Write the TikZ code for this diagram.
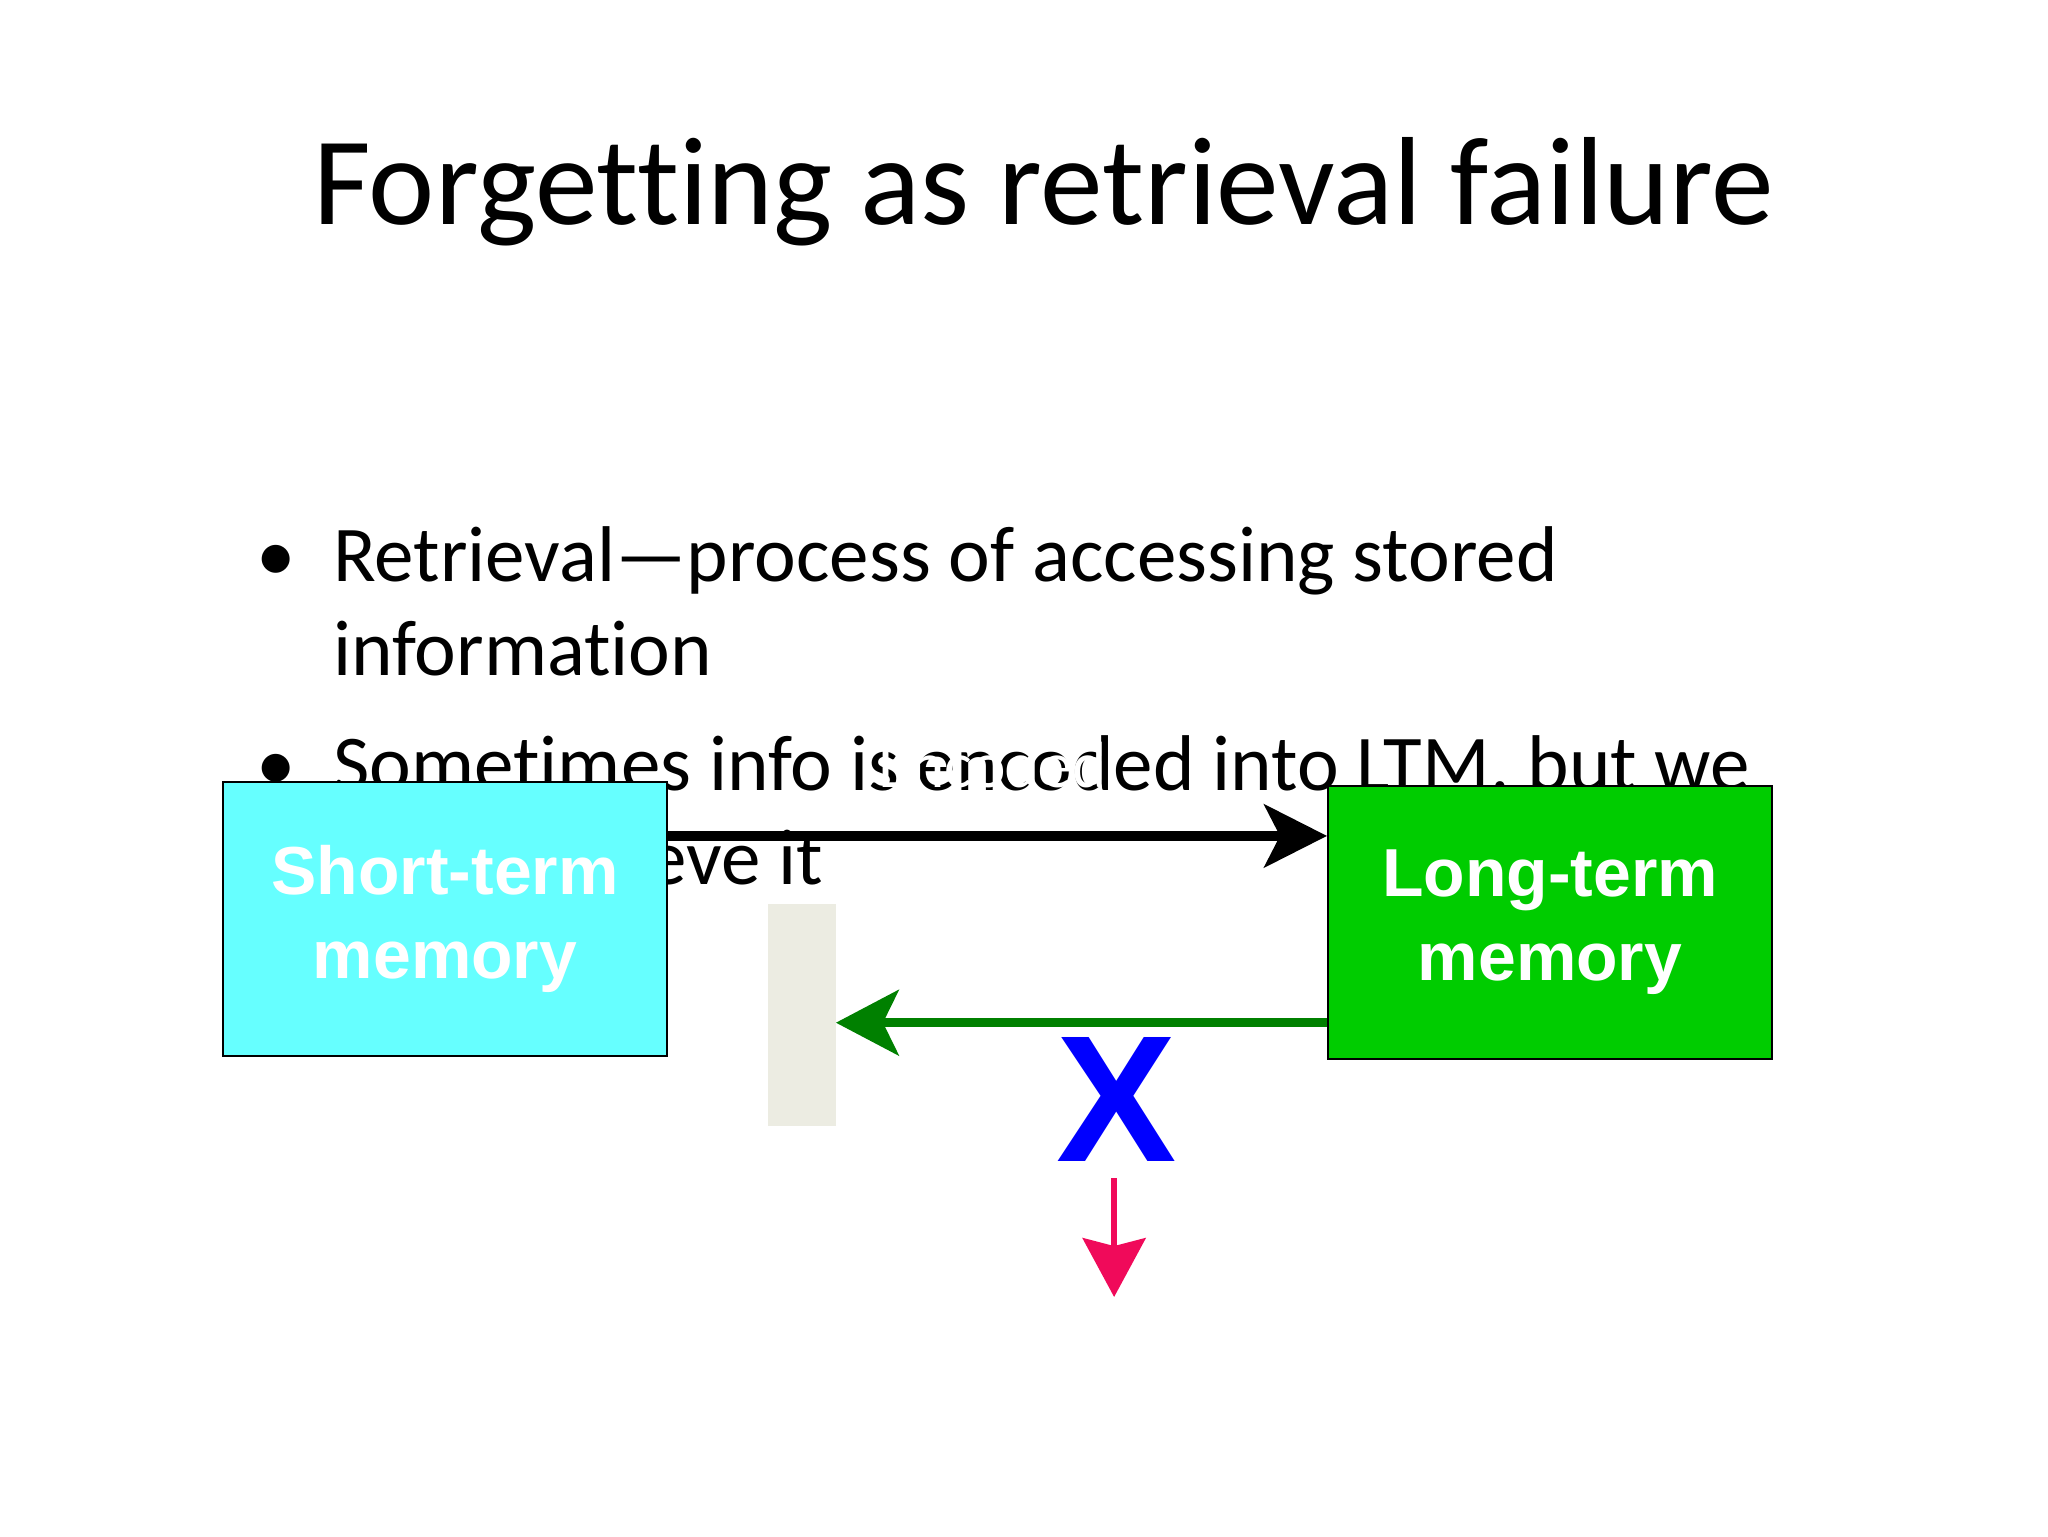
\documentclass[tikz,border=0pt]{standalone}
\usepackage{fontspec}
\setmainfont[Ligatures={NoCommon}]{Carlito}
\newfontfamily\arial{Liberation Sans}
\usetikzlibrary{arrows.meta}
\definecolor{pinkred}{RGB}{240,10,90}
\definecolor{beige}{RGB}{236,236,226}
\definecolor{stmcyan}{RGB}{102,255,255}
\definecolor{ltmgreen}{RGB}{0,204,0}
\begin{document}
\begin{tikzpicture}[x=1pt,y=-1pt,
  txt/.style={anchor=base west,inner sep=0pt,font=\fontsize{60.5}{72}\selectfont},
  mem/.style={draw=black,line width=1.5pt,anchor=north west,inner sep=0pt,text=white,align=center,font=\arial\bfseries\fontsize{52}{64}\selectfont}]
\useasboundingbox (0,0) rectangle (1568,1176);
\node[anchor=base,inner sep=0pt,font=\fontsize{96}{110}\selectfont] (title) at (799,172) {Forgetting as retrieval failure};
\node[txt] (b1) at (196,445) {•};
\node[txt] (l1) at (255,445) {Retrieval—process of accessing stored};
\node[txt] (l2) at (255,517) {information};
\node[txt] (b2) at (196,605) {•};
\node[txt] (l3) at (255,605) {Sometimes info is encoded into LTM, but we};
\node[txt] (l4) at (255,677) {can't retrieve it};
\node[mem,fill=stmcyan,minimum width=340pt,minimum height=210pt] (stm) at (170,598) {\rule{0pt}{12pt}Short-term\\memory};
\node[mem,fill=ltmgreen,minimum width=340pt,minimum height=209pt] (ltm) at (1016,601) {\rule{0pt}{12pt}Long-term\\memory};
\node[anchor=base,inner sep=0pt,text=white,font=\fontsize{50}{60}\selectfont] (enc) at (760,603) {Encoded};
\fill[beige] (588,692) rectangle (640,862);
\coordinate (bar) at (640,783);
\draw[line width=8pt,-{Stealth[length=48pt,width=48pt,inset=12pt]}] (stm.east|-0,640) -- (ltm.west|-0,640);
\draw[line width=7pt,green!50!black,-{Stealth[length=48pt,width=50pt,inset=12pt]}] (ltm.west|-bar) -- (bar);
\node[inner sep=0pt,text=blue,font=\arial\bfseries\fontsize{138}{138}\selectfont] (x) at (855,842) {X};
\coordinate (p1) at (853,902);
\coordinate (p2) at (853,993);
\draw[line width=5pt,pinkred,-{Stealth[length=45pt,width=48pt,inset=6pt]}] (p1) -- (p2);
\end{tikzpicture}
\end{document}
